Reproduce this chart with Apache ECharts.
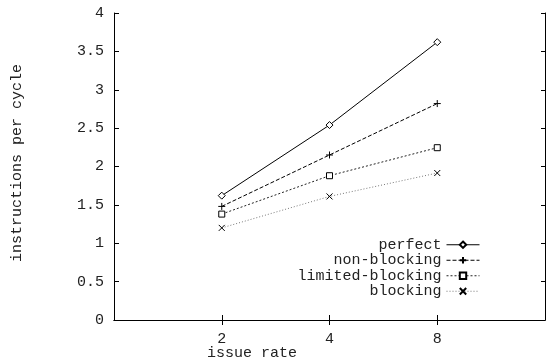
<!DOCTYPE html>
<html>
<head>
<meta charset="utf-8">
<script src="https://cdn.jsdelivr.net/npm/echarts@6/dist/echarts.min.js"></script>
<style>html,body{margin:0;padding:0;background:#fff;}#c{width:548px;height:362px;}</style>
</head>
<body>
<div id="c"></div>
<script>
var issueRates = ['2', '4', '8'];
var perfect = [1.62, 2.54, 3.62];
var nonBlocking = [1.48, 2.15, 2.82];
var limitedBlocking = [1.38, 1.88, 2.245];
var blocking = [1.20, 1.61, 1.915];

var FONT = 'Liberation Mono';
var axisCats = [''].concat(issueRates, ['']);
function pad(a) { return [null].concat(a, [null]); }

var chart = echarts.init(document.getElementById('c'), null, {renderer: 'canvas'});
var tickInterval = function (i) { return i > 0 && i < axisCats.length - 1; };
var lineAxis = {lineStyle: {color: '#000', width: 1}};
var diamondPath = 'path://M5,0L10,5L5,10L0,5Z';
var rectPath = 'path://M0,0L10,0L10,10L0,10Z';
var plusPath = 'path://M0,5L10,5M5,0L5,10';
var crossPath = 'path://M0,0L10,10M0,10L10,0';

function mk(name, data, symbol, size, fill, lineType, lineColor) {
  return {
    name: name, type: 'line', data: pad(data), symbol: symbol, symbolSize: size,
    showSymbol: true,
    lineStyle: {color: lineColor, width: 1, type: lineType},
    itemStyle: {color: fill, borderColor: '#000', borderWidth: 1},
    emphasis: {disabled: true},
    z: 3
  };
}

chart.setOption({
  animation: false,
  grid: {left: 114, right: -2, top: 13, bottom: 42, containLabel: false},
  xAxis: [{
    type: 'category', data: axisCats, boundaryGap: false, position: 'bottom',
    axisLine: lineAxis,
    axisTick: {inside: true, length: 5, interval: tickInterval, lineStyle: {color: '#000'}},
    axisLabel: {interval: 0, margin: 12, fontFamily: FONT, fontSize: 15, color: '#222'},
    splitLine: {show: false}
  }, {
    type: 'category', data: axisCats, boundaryGap: false, position: 'top',
    axisLine: lineAxis,
    axisTick: {inside: true, length: 5, interval: tickInterval, lineStyle: {color: '#000'}},
    axisLabel: {show: false},
    splitLine: {show: false}
  }],
  yAxis: [{
    type: 'value', min: 0, max: 4, interval: 0.5, position: 'left',
    axisLine: {show: true, lineStyle: {color: '#000', width: 1}},
    axisTick: {show: true, inside: true, length: 5, lineStyle: {color: '#000'}},
    axisLabel: {margin: 10, fontFamily: FONT, fontSize: 15, color: '#222'},
    splitLine: {show: false}
  }, {
    type: 'value', min: 0, max: 4, interval: 0.5, position: 'right',
    axisLine: {show: true, lineStyle: {color: '#000', width: 1}},
    axisTick: {show: true, inside: true, length: 4, lineStyle: {color: '#000'}},
    axisLabel: {show: false},
    splitLine: {show: false}
  }],
  legend: {
    orient: 'vertical', align: 'right', right: 68, top: 237, padding: 0,
    itemWidth: 33, itemHeight: 8, itemGap: 0,
    lineStyle: {width: 1},
    textStyle: {fontFamily: FONT, fontSize: 15, lineHeight: 15.5, color: '#222'},
    data: ['perfect', 'non-blocking', 'limited-blocking', 'blocking']
  },
  graphic: [{
    type: 'text', x: 252, y: 353,
    style: {text: 'issue rate', font: '15px "Liberation Mono"', fill: '#222', align: 'center', verticalAlign: 'middle'}
  }, {
    type: 'text', x: 17, y: 163, rotation: Math.PI / 2,
    style: {text: 'instructions per cycle', font: '15px "Liberation Mono"', fill: '#222', align: 'center', verticalAlign: 'middle'}
  }],
  series: [
    mk('perfect', perfect, diamondPath, 7, '#fff', 'solid', '#000'),
    mk('non-blocking', nonBlocking, plusPath, 7, '#000', [4, 2], '#000'),
    mk('limited-blocking', limitedBlocking, rectPath, 6, '#fff', [2, 2], '#222'),
    mk('blocking', blocking, crossPath, 6, '#000', [1, 2], '#777')
  ]
});
</script>
</body>
</html>
